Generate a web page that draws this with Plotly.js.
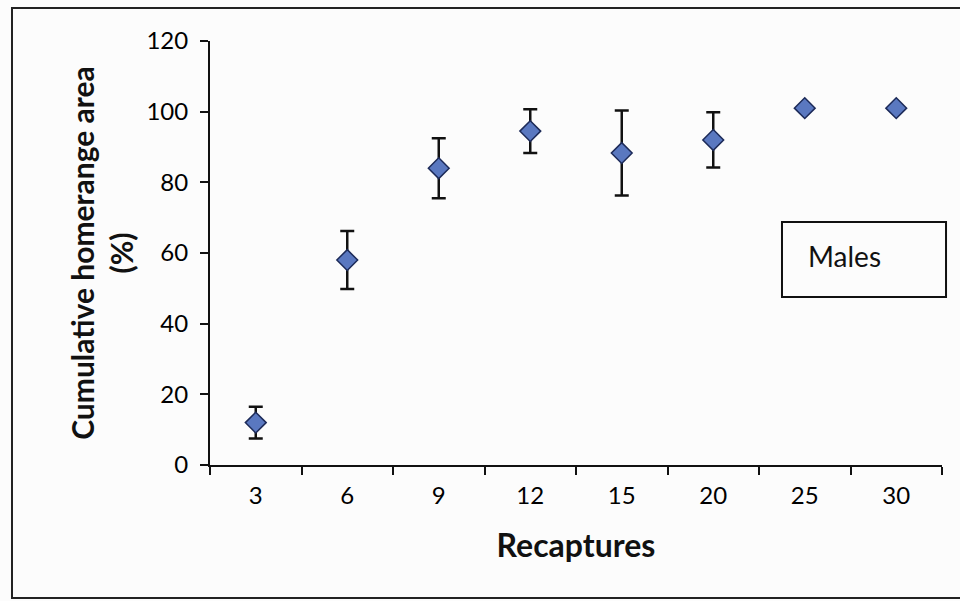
<!DOCTYPE html>
<html>
<head>
<meta charset="utf-8">
<script src="https://cdn.plot.ly/plotly-3.0.1.min.js"></script>
<style>html,body{margin:0;padding:0;background:#fcfcfc;}#chart{width:960px;height:601px;}</style>
</head>
<body>
<div id="chart"></div>
<script>
const recaptures = ['3', '6', '9', '12', '15', '20', '25', '30'];
const homerangePct = [12, 58, 84, 94.5, 88.3, 92, 101, 101];
const errorPct = [4.5, 8.2, 8.5, 6.2, 12, 7.8, 0, 0];
const yTicks = [0, 20, 40, 60, 80, 100, 120];

const trace = {
  type: 'scatter',
  mode: 'markers',
  x: recaptures,
  y: homerangePct,
  error_y: {type: 'data', array: errorPct, visible: true, color: '#111', thickness: 2.5, width: 7},
  marker: {symbol: 'diamond', size: 16, color: '#5a78c0', line: {color: '#1c2a58', width: 1.5}},
  showlegend: false,
  cliponaxis: false
};

const font = 'Lato, "Open Sans", sans-serif';
const layout = {
  width: 960, height: 601,
  paper_bgcolor: '#fcfcfc', plot_bgcolor: '#fcfcfc',
  margin: {l: 210, r: 18, t: 41, b: 136},
  font: {family: font, color: '#111', size: 24},
  xaxis: {
    type: 'category', range: [-0.5, 7.5],
    tickson: 'boundaries', ticks: 'outside', ticklen: 8, tickwidth: 2, tickcolor: '#111',
    showline: true, linecolor: '#111', linewidth: 2, showgrid: false, zeroline: false,
    ticklabelstandoff: 8,
    tickfont: {size: 24, family: font, color: '#000'},
    title: {text: '<b>Recaptures</b>', font: {size: 32, family: font}, standoff: 27}
  },
  yaxis: {
    range: [0, 120], tickvals: yTicks,
    ticks: 'outside', ticklen: 8, tickwidth: 2, tickcolor: '#111',
    showline: true, linecolor: '#111', linewidth: 2, showgrid: false, zeroline: false,
    ticklabelstandoff: 7,
    tickfont: {size: 24, family: font, color: '#000'},
    title: {text: '<b>Cumulative homerange area<br>(%)</b>', font: {size: 30, family: font}, standoff: 4}
  },
  shapes: [
    {type: 'rect', xref: 'paper', yref: 'paper', x0: -0.2705, x1: 1.05, y0: -0.3137, y1: 1.0778,
     line: {color: '#222', width: 2}, fillcolor: 'rgba(0,0,0,0)'},
    {type: 'rect', xref: 'paper', yref: 'paper', x0: 0.7814, x1: 1.0055, y0: 0.3962, y1: 0.5731,
     line: {color: '#111', width: 2}, fillcolor: 'rgba(0,0,0,0)'}
  ],
  annotations: [
    {text: 'Males', xref: 'paper', yref: 'paper', x: 0.814, y: 0.493, xanchor: 'left', yanchor: 'middle',
     showarrow: false, font: {size: 28, family: font, color: '#111'}}
  ]
};

Plotly.newPlot('chart', [trace], layout, {displayModeBar: false, staticPlot: true});
</script>
</body>
</html>
